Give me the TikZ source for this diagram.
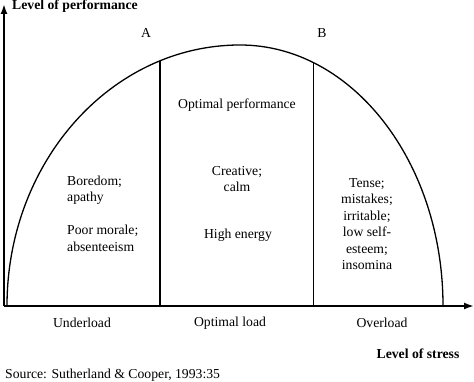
\documentclass[tikz,border=0pt]{standalone}
\usepackage{fontspec}
\setmainfont{Liberation Serif}
\usetikzlibrary{arrows.meta}
\tikzset{
  txt/.style={inner sep=0pt, font=\fontsize{13.7}{16.4}\selectfont, align=center},
  bld/.style={inner sep=0pt, font=\fontsize{13.7}{16.4}\selectfont\bfseries},
  axis/.style={line width=1.8pt, -{Latex[length=10pt,width=7pt]}},
  curve/.style={line width=1.3pt},
}
\begin{document}
\begin{tikzpicture}[x=1pt,y=1pt]
\useasboundingbox (0,0) rectangle (474,382);
\coordinate (O) at (4,76);
\coordinate (ytip) at (4,378);
\coordinate (xtip) at (474,76);
\draw[axis] (O) -- (ytip);
\draw[axis] (O) -- (xtip);
% curve
\draw[curve] (7,76) arc[start angle=180,end angle=90,x radius=233,y radius=261]
  arc[start angle=90,end angle=0,x radius=203,y radius=261];
% vertical lines
\coordinate (Atop) at (160,321.1);
\coordinate (Abot) at (160,76);
\coordinate (Btop) at (313,319.5);
\coordinate (Bbot) at (313,76);
\draw[line width=2pt] (Atop) -- (Abot);
\draw[line width=1pt] (Btop) -- (Bbot);
% labels
\node[bld, anchor=west] (ylab) at (12,376) {Level of performance};
\node[txt] (A) at (146,349) {A};
\node[txt] (B) at (322,349) {B};
\node[txt] (opt) at (237,277) {Optimal performance};
\node[txt] (creative) at (237,203) {Creative;\\calm};
\node[txt] (high) at (238,147) {High energy};
\node[txt, anchor=west, align=left] (bored) at (67,192) {Boredom;\\apathy};
\node[txt, anchor=west, align=left] (poor) at (67,143.5) {Poor morale;\\absenteeism};
\node[txt] (tense) at (367,158) {Tense;\\mistakes;\\irritable;\\low self-\\esteem;\\insomina};
\node[txt] (under) at (82,59) {Underload};
\node[txt] (optload) at (230,59) {Optimal load};
\node[txt] (over) at (382,59) {Overload};
\node[bld] (xlab) at (418,28) {Level of stress};
\node[txt, anchor=west] (src) at (5,7) {Source: Sutherland \& Cooper, 1993:35};
\end{tikzpicture}
\end{document}
